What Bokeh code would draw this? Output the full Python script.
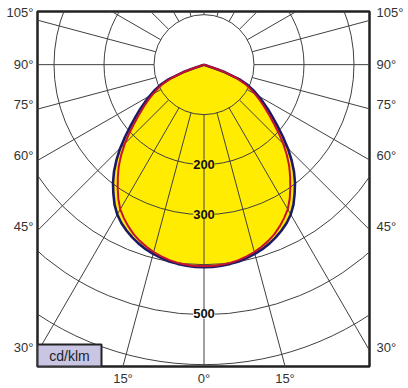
import numpy as np
from bokeh.plotting import figure
from bokeh.models import LinearAxis, FixedTicker, Range1d, Label
from bokeh.embed import file_html
from bokeh.resources import INLINE
from bokeh.core.properties import value

# ---------------- data (cd/klm, angle from nadir in degrees) ----------------
angles_deg = [0, 2.5, 5, 7.5, 10, 12.5, 15, 17.5, 20, 22.5, 25, 27.5, 30, 32.5,
              35, 37.5, 40, 42.5, 45, 47.5, 50, 52.5, 55, 57.5, 60, 62.5, 65,
              67.5, 70, 71, 72]
c0_c180 = [406, 406, 405, 403, 401, 397, 393, 388, 382, 375, 367, 358, 347, 333,
           316, 299, 280, 259, 237, 214, 192, 173, 156, 140, 125, 111, 96,
           76, 45, 25, 0]
c90_c270 = [404, 404, 403, 401, 398, 394, 389, 383, 376, 368, 358, 347, 335, 319,
            301, 283, 265, 245, 224, 202, 181, 163, 147, 132, 118, 104, 90,
            70, 40, 22, 0]

ring_values = [100, 200, 300, 400, 500, 600]
ring_label_values = [200, 300, 500]
radial_angles = list(range(0, 360, 15))

side_label_text = ["105°", "90°", "75°", "60°", "45°", "30°"]
side_label_y = [105, 0, -80, -182, -324, -568]
bottom_label_angles = [-15, 0, 15]
bottom_label_text = ["15°", "0°", "15°"]
unit_text = "cd/klm"

# ---------------- styles ----------------
YELLOW = "#FFEC00"
NAVY = "#1C1A66"
RED = "#C41230"
GRID = "#404040"
FONT = "Liberation Sans"

X0, X1 = -333, 331
Y1 = 106.6
Y0 = Y1 - 712

p = figure(width=408, height=388, output_backend="svg", toolbar_location=None,
           x_range=Range1d(X0, X1), y_range=Range1d(Y0, Y1),
           min_border_left=37, min_border_right=39, min_border_top=11,
           min_border_bottom=21)
p.xgrid.visible = False
p.ygrid.visible = False
p.background_fill_color = "white"
p.border_fill_color = "white"
p.outline_line_color = "#222222"
p.outline_line_width = 2.5

# ---------------- luminous intensity curves ----------------
th = np.radians(np.array(angles_deg, dtype=float))
def polar_xy(vals):
    v = np.array(vals, dtype=float)
    t_full = np.concatenate([-th[::-1], th[1:]])
    v_full = np.concatenate([v[::-1], v[1:]])
    return v_full * np.sin(t_full), -v_full * np.cos(t_full)

xn, yn = polar_xy(c0_c180)
xr, yr = polar_xy(c90_c270)

p.patch(xn, yn, fill_color=YELLOW, line_color=None)

# ---------------- polar grid ----------------
p.circle(x=[0] * len(ring_values), y=[0] * len(ring_values), radius=ring_values,
         fill_color=None, line_color=GRID, line_width=1)
ra = np.radians(np.array(radial_angles, dtype=float))
r_in, r_out = ring_values[0], 1000
p.segment(x0=r_in * np.sin(ra), y0=-r_in * np.cos(ra),
          x1=r_out * np.sin(ra), y1=-r_out * np.cos(ra),
          line_color=GRID, line_width=1)

p.line(xn, yn, line_color=NAVY, line_width=2.6)
p.line(xr, yr, line_color=RED, line_width=2)

# ring labels
for v in ring_label_values:
    bg = YELLOW if v < 400 else "white"
    p.add_layout(Label(x=0, y=-v, text=str(v), text_align="center",
                       text_baseline="middle", text_font=FONT,
                       text_font_style="bold", text_font_size="13px",
                       text_color="#111111", background_fill_color=bg))

# unit box
p.quad(left=[X0], right=[X0 + 128], top=[Y0 + 44], bottom=[Y0],
       fill_color="#C9C6E4", line_color="#222222", line_width=2)
p.text(x=[X0 + 64], y=[Y0 + 22], text=[unit_text], text_font=value(FONT),
       text_font_size="14px", text_align="center", text_baseline="middle",
       text_color="#222222")

# ---------------- axes as angle labels ----------------
def style_axis(ax, ticks, labels, standoff):
    ax.ticker = FixedTicker(ticks=ticks)
    ax.major_label_overrides = {t: l for t, l in zip(ticks, labels)}
    ax.axis_line_color = None
    ax.major_tick_line_color = None
    ax.minor_tick_line_color = None
    ax.major_tick_out = 0
    ax.major_tick_in = 0
    ax.minor_tick_out = 0
    ax.minor_tick_in = 0
    ax.major_label_text_font = FONT
    ax.major_label_text_font_size = "13px"
    ax.major_label_text_color = "#333333"
    ax.major_label_standoff = standoff

bottom_ticks = [int(round(-Y0 * np.tan(np.radians(a)))) for a in bottom_label_angles]
style_axis(p.xaxis[0], bottom_ticks, bottom_label_text, 4)
style_axis(p.yaxis[0], side_label_y, side_label_text, 4)
right = LinearAxis()
style_axis(right, side_label_y, side_label_text, 7)
p.add_layout(right, "right")

open("out.html", "w").write(file_html(p, INLINE))
